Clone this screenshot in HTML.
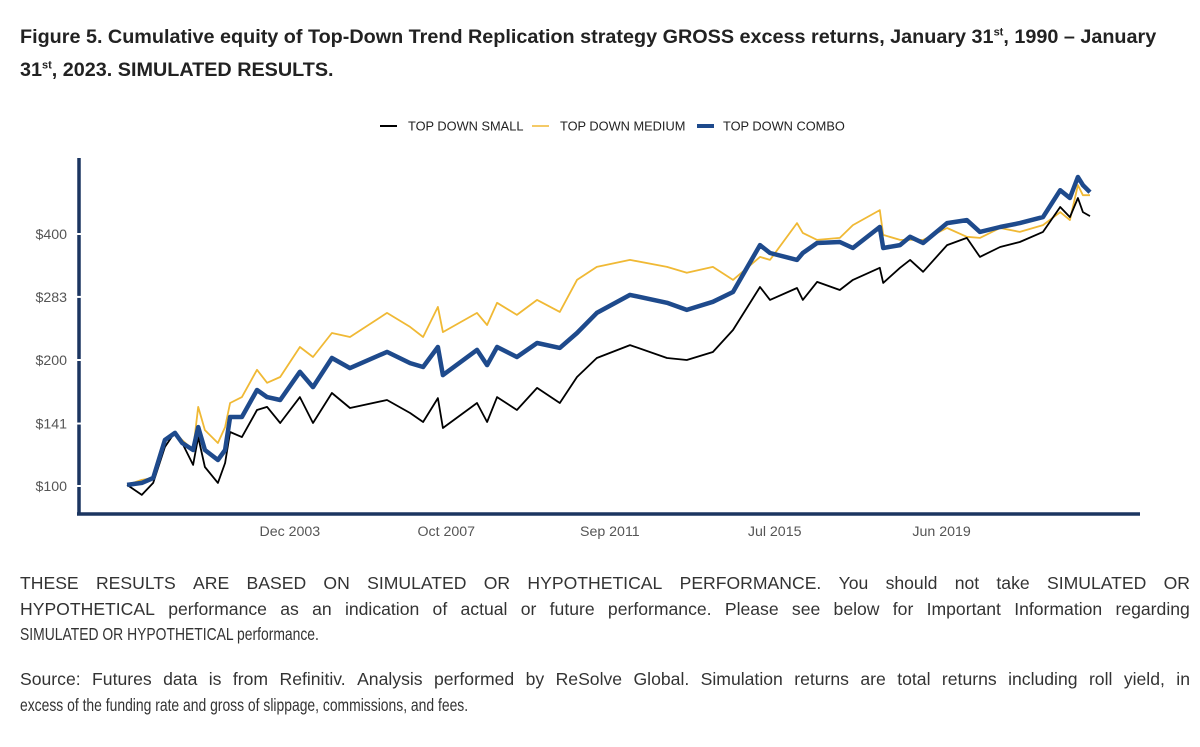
<!DOCTYPE html>
<html><head><meta charset="utf-8"><style>
body{margin:0;width:1200px;height:747px;background:#fff;font-family:"Liberation Sans",Arial,sans-serif;overflow:hidden;position:relative}
.title{position:absolute;left:20px;top:21px;width:1175px;font-weight:bold;font-size:19.8px;line-height:33px;color:#222;white-space:nowrap}
.title sup{font-size:11px;line-height:0}
.note{position:absolute;left:20px;width:1170px;font-size:17.6px;line-height:25.5px;color:#333}
.note .j{white-space:nowrap;display:flex;justify-content:space-between}
.note .l{white-space:nowrap;transform:scaleX(0.79);transform-origin:0 50%}
</style></head><body>
<div class="title">Figure 5. Cumulative equity of Top-Down Trend Replication strategy GROSS excess returns, January 31<sup>st</sup>, 1990 – January<br>31<sup>st</sup>, 2023. SIMULATED RESULTS.</div>
<svg id="chart" width="1200" height="560" style="position:absolute;left:0;top:0" font-family="Liberation Sans, Arial, sans-serif"></svg>
<div class="note" style="top:571px">
<div class="j"><span>THESE</span><span>RESULTS</span><span>ARE</span><span>BASED</span><span>ON</span><span>SIMULATED</span><span>OR</span><span>HYPOTHETICAL</span><span>PERFORMANCE.</span><span>You</span><span>should</span><span>not</span><span>take</span><span>SIMULATED</span><span>OR</span></div>
<div class="j"><span>HYPOTHETICAL</span><span>performance</span><span>as</span><span>an</span><span>indication</span><span>of</span><span>actual</span><span>or</span><span>future</span><span>performance.</span><span>Please</span><span>see</span><span>below</span><span>for</span><span>Important</span><span>Information</span><span>regarding</span></div>
<div class="l">SIMULATED OR HYPOTHETICAL performance.</div>
</div>
<div class="note" style="top:667px">
<div class="j"><span>Source:</span><span>Futures</span><span>data</span><span>is</span><span>from</span><span>Refinitiv.</span><span>Analysis</span><span>performed</span><span>by</span><span>ReSolve</span><span>Global.</span><span>Simulation</span><span>returns</span><span>are</span><span>total</span><span>returns</span><span>including</span><span>roll</span><span>yield,</span><span>in</span></div>
<div class="l">excess of the funding rate and gross of slippage, commissions, and fees.</div>
</div>
<script>
const dates=[2000.05,2000.40,2000.67,2000.95,2001.19,2001.36,2001.62,2001.74,2001.90,2002.21,2002.38,2002.50,2002.78,2003.14,2003.38,2003.69,2004.16,2004.47,2004.92,2005.35,2006.23,2006.78,2007.09,2007.44,2007.56,2008.37,2008.61,2008.85,2009.32,2009.80,2010.34,2010.75,2011.22,2012.01,2012.89,2013.36,2013.98,2014.46,2015.10,2015.34,2015.98,2016.12,2016.46,2017.00,2017.31,2017.95,2018.03,2018.43,2018.67,2018.98,2019.55,2020.02,2020.33,2020.81,2021.28,2021.83,2022.24,2022.47,2022.66,2022.78,2022.95];
const small=[100.6,95.2,101.7,123.9,134.6,126.7,112.3,130.9,111.0,101.7,113.5,134.6,130.9,151.9,154.5,141.4,163.1,141.4,166.8,153.6,160.5,149.4,142.2,162.2,137.6,157.9,142.2,163.1,151.9,171.5,157.9,182.1,202.2,217.1,202.2,200,209,235.9,298.9,278.4,297.2,278.4,307.3,294.0,310.7,332.2,305.6,332.2,346.8,324.9,376.4,391.6,352.7,372.3,382.7,404.7,464.1,439.0,487.6,451.3,441.4];
const medium=[100.6,103.4,104.5,128.8,133.9,128.8,121.9,154.5,136.0,126.7,138.3,157.9,163.1,189.5,176.4,182.1,214.8,203.3,232.0,227.0,259.2,239.9,227.0,267.9,233.2,259.2,242.5,273.9,256.3,278.4,260.6,310.7,333.7,346.8,333.7,323.2,333.7,310.7,352.7,346.8,424.8,402.5,387.2,391.6,420.1,456.3,398.1,387.2,387.2,387.2,413.4,393.8,391.6,413.4,404.7,420.1,451.3,431.9,523.4,495.2,495.2];
const combo=[100.6,101.7,104.5,128.8,133.9,126.7,121.9,138.3,121.9,115.4,121.9,146.2,146.2,169.6,163.1,160.5,187.4,172.3,202.2,191.3,209.1,196.6,192.4,214.8,184.1,211.4,194.5,214.8,203.3,219.6,213.8,232.0,259.2,286.1,273.9,263.4,275.4,290.8,376.4,360.3,346.8,360.3,380.6,382.7,370.3,415.6,370.3,376.4,393.8,380.6,424.8,431.9,404.7,415.6,424.8,439.0,509.0,487.6,547.2,523.4,503.4];
const yTicks=[100,141,200,283,400];
const xTickLabels=["Dec 2003","Oct 2007","Sep 2011","Jul 2015","Jun 2019"];
const xTickDates=[2003.92,2007.64,2011.53,2015.45,2019.42];
const NS="http://www.w3.org/2000/svg";
const svg=document.getElementById('chart');
const X=d=>125+(d-2000)*42.05;
const Y=v=>486-126*Math.log2(v/100);
function mk(tag,attrs,parent){const e=document.createElementNS(NS,tag);for(const k in attrs)e.setAttribute(k,attrs[k]);(parent||svg).appendChild(e);return e;}
const ax=mk('line',{x1:79,y1:158,x2:79,y2:514,stroke:'#1b3560','stroke-width':3.5});


const bx=mk('line',{x1:77,y1:514,x2:1140,y2:514,stroke:'#1b3560','stroke-width':3.5});


yTicks.forEach(v=>{
  const y=Y(v);
  mk('line',{x1:77,y1:y,x2:81,y2:y,stroke:'#fff','stroke-width':2});
  const t=mk('text',{x:67,y:y+5,'text-anchor':'end','font-size':14.2,fill:'#555'});
  t.textContent='$'+v;
  
  
});
xTickLabels.forEach((s,i)=>{
  const t=mk('text',{x:X(xTickDates[i]),y:536,'text-anchor':'middle','font-size':14.2,fill:'#555'});
  t.textContent=s;
  
  
});
function line(vals,color,w,name){
  const p=mk('path',{d:vals.map((v,i)=>(i?'L':'M')+X(dates[i]).toFixed(1)+' '+Y(v).toFixed(1)).join(''),fill:'none',stroke:color,'stroke-width':w,'stroke-linejoin':'round'});
  
  
}
line(medium,'#f0b935',1.8,'series-top-down-medium');
line(small,'#000',1.8,'series-top-down-small');
line(combo,'#1e4a8c',4.5,'series-top-down-combo');
const leg=[['TOP DOWN SMALL','#000',2,380,408],['TOP DOWN MEDIUM','#f0b935',1.5,532,560],['TOP DOWN COMBO','#1e4a8c',4,697,723]];
leg.forEach(l=>{
  const g=mk('g',{});
  
  
  mk('line',{x1:l[3],y1:126,x2:l[3]+17,y2:126,stroke:l[1],'stroke-width':l[2]},g);
  const t=mk('text',{x:l[4],y:130.5,'font-size':12.8,fill:'#222'},g);
  t.textContent=l[0];
});
</script>
</body></html>
